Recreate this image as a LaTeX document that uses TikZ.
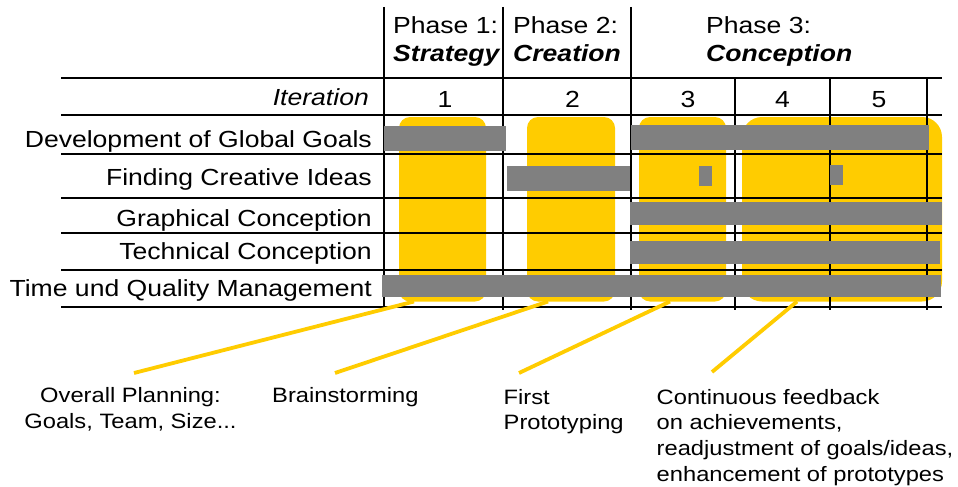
\documentclass[tikz,border=0pt]{standalone}
\usepackage{fontspec}
\setmainfont{Liberation Sans}[FakeStretch=1.14]
\definecolor{myyellow}{RGB}{255,204,0}
\definecolor{mygray}{RGB}{128,128,128}
\newcommand\szA{\fontsize{23.3}{28.4}\selectfont}
\newcommand\szB{\fontsize{20.8}{25.9}\selectfont}
\begin{document}
\begin{tikzpicture}[x=1pt,y=-1pt,
  gridline/.style={line width=1.1pt, black},
  ybox/.style={fill=myyellow, rounded corners=11pt},
  ybigbox/.style={fill=myyellow, rounded corners=20pt},
  gbar/.style={fill=mygray},
  lead/.style={draw=myyellow, line width=3.8pt},
  txt/.style={inner sep=0pt, font=\szA},
  note/.style={inner sep=0pt, font=\szB}]
\useasboundingbox (0,0) rectangle (958,487);
% yellow iteration areas
\fill[ybox] (399,117) rectangle (486,301.5);
\fill[ybox] (527,117) rectangle (615,301.5);
\fill[ybox] (639,117) rectangle (726,301.5);
\fill[ybigbox] (742,117) rectangle (942,301.5);
% grid
\foreach \y in {78,115,154,198,233,270,307}
  \draw[gridline] (61,\y) -- (942,\y);
\foreach \x in {384,503,631}
  \draw[gridline] (\x,7) -- (\x,310);
\foreach \x in {735,830,927}
  \draw[gridline] (\x,78) -- (\x,310);
% gray activity bars
\fill[gbar] (384,125.5) rectangle (506,150.5);
\fill[gbar] (631,125) rectangle (929,150);
\fill[gbar] (507,166) rectangle (630,190.5);
\fill[gbar] (699,166) rectangle (712,186);
\fill[gbar] (830,165) rectangle (843,185);
\fill[gbar] (630,202) rectangle (942,225);
\fill[gbar] (630,241) rectangle (940,264);
\fill[gbar] (382,275) rectangle (941,297);
% phase headers
\node[txt, anchor=base west] (ph1) at (393,33.3)
  {\begin{tabular}[t]{@{}l@{}}Phase 1:\\\textbf{\textit{Strategy}}\end{tabular}};
\node[txt, anchor=base west] (ph2) at (513,33.3)
  {\begin{tabular}[t]{@{}l@{}}Phase 2:\\\textbf{\textit{Creation}}\end{tabular}};
\node[txt, anchor=base west] (ph3) at (706,33.3)
  {\begin{tabular}[t]{@{}l@{}}Phase 3:\\\textbf{\textit{Conception}}\end{tabular}};
% iteration row
\node[txt, anchor=base east] (iter) at (369,105.7) {\textit{Iteration}};
\node[txt, anchor=base] (it1) at (445,107.3) {1};
\node[txt, anchor=base] (it2) at (572.5,107.3) {2};
\node[txt, anchor=base] (it3) at (688,107.3) {3};
\node[txt, anchor=base] (it4) at (782.5,107.3) {4};
\node[txt, anchor=base] (it5) at (879,107.3) {5};
% row labels
\node[txt, anchor=base east] (r1) at (372,147.3) {Development of Global Goals};
\node[txt, anchor=base east] (r2) at (372,185.7) {Finding Creative Ideas};
\node[txt, anchor=base east] (r3) at (372,226) {Graphical Conception};
\node[txt, anchor=base east] (r4) at (372,259.5) {Technical Conception};
\node[txt, anchor=base east] (r5) at (372,296.8) {Time und Quality Management};
% annotations
\node[note, anchor=base] (n1) at (130.5,402.5)
  {\begin{tabular}[t]{@{}c@{}}Overall Planning:\\Goals, Team, Size...\end{tabular}};
\node[note, anchor=base west] (n2) at (272,402.5) {Brainstorming};
\node[note, anchor=base west] (n3) at (503.5,404)
  {\begin{tabular}[t]{@{}l@{}}First\\Prototyping\end{tabular}};
\node[note, anchor=base west] (n4) at (656.5,404)
  {\begin{tabular}[t]{@{}l@{}}Continuous feedback\\on achievements,\\readjustment of goals/ideas,\\enhancement of prototypes\end{tabular}};
% leader lines
\coordinate (a1) at (414,301.5);
\coordinate (b1) at (134,373);
\coordinate (a2) at (548,301.5);
\coordinate (b2) at (335,373);
\coordinate (a3) at (670,301.5);
\coordinate (b3) at (519,373);
\coordinate (a4) at (797,301.5);
\coordinate (b4) at (712,372);
\draw[lead] (a1) -- (b1);
\draw[lead] (a2) -- (b2);
\draw[lead] (a3) -- (b3);
\draw[lead] (a4) -- (b4);
\end{tikzpicture}
\end{document}
